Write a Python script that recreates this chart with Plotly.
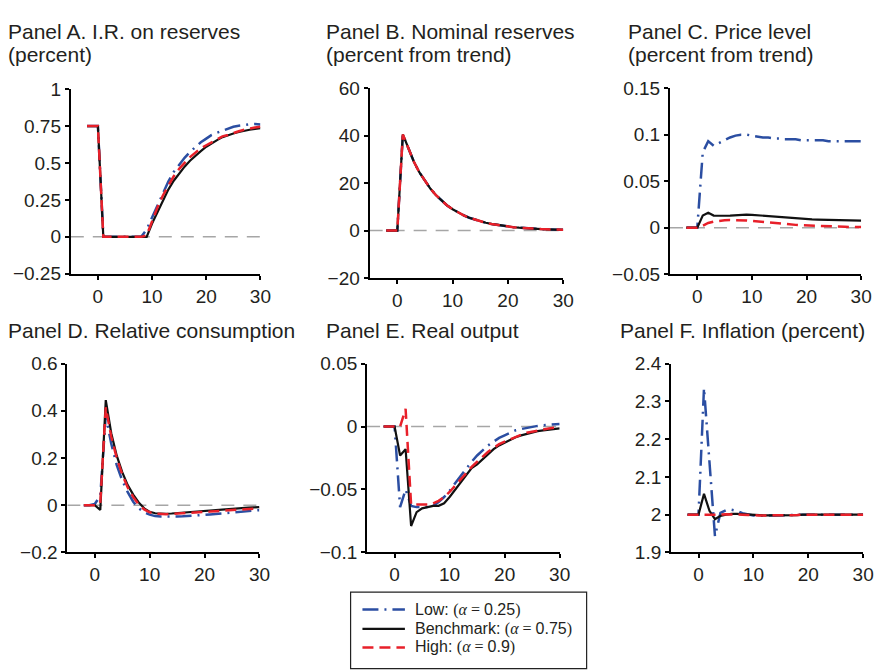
import plotly.graph_objects as go

W, H = 886, 670

t = list(range(-2, 31))

# Panel A: interest rate on reserves (percent)
a_low = [0.75, 0.75, 0.75, 0, 0, 0, 0, 0, 0, 0, 0, 0.05, 0.13, 0.22, 0.30, 0.375, 0.44, 0.49, 0.535, 0.575,
         0.61, 0.64, 0.665, 0.69, 0.705, 0.72, 0.735, 0.745, 0.752, 0.758, 0.762, 0.764, 0.76]
a_bench = [0.75, 0.75, 0.75, 0, 0, 0, 0, 0, 0, 0, 0, 0, 0.09, 0.17, 0.25, 0.32, 0.38, 0.43, 0.475, 0.515,
           0.55, 0.58, 0.61, 0.635, 0.655, 0.675, 0.69, 0.70, 0.71, 0.72, 0.725, 0.73, 0.735]
a_high = [0.75, 0.75, 0.75, 0, 0, 0, 0, 0, 0, 0, 0, 0.01, 0.11, 0.20, 0.28, 0.35, 0.41, 0.46, 0.50, 0.54,
          0.57, 0.60, 0.62, 0.64, 0.66, 0.68, 0.69, 0.705, 0.715, 0.725, 0.735, 0.74, 0.745]

# Panel B: nominal reserves (percent from trend)
b_low = [0, 0, 0, 40.5, 34.3, 29.0, 24.5, 20.8, 17.6, 14.9, 12.6, 10.6, 9.0, 7.6, 6.4, 5.4, 4.6, 3.9, 3.3,
         2.8, 2.4, 2.0, 1.7, 1.4, 1.2, 1.0, 0.87, 0.74, 0.62, 0.53, 0.45, 0.38, 0.32]
b_bench = list(b_low)
b_high = list(b_low)

# Panel C: price level (percent from trend)
c_low = [0, 0, 0, 0.081, 0.093, 0.088, 0.091, 0.094, 0.097, 0.099, 0.100, 0.100, 0.099, 0.098, 0.097,
         0.097, 0.096, 0.096, 0.095, 0.095, 0.095, 0.094, 0.094, 0.094, 0.094, 0.094, 0.093, 0.093,
         0.093, 0.093, 0.093, 0.093, 0.093]
c_bench = [0, 0, 0, 0.013, 0.016, 0.013, 0.0125, 0.0128, 0.013, 0.0135, 0.014, 0.014, 0.0138, 0.0133,
           0.0128, 0.0122, 0.0117, 0.0112, 0.0107, 0.0103, 0.0099, 0.0095, 0.0092, 0.0089, 0.0087,
           0.0085, 0.0083, 0.0081, 0.008, 0.0079, 0.0078, 0.0077, 0.0076]
c_high = [0, 0, 0, 0.002, 0.005, 0.0065, 0.0075, 0.008, 0.0082, 0.0082, 0.008, 0.0077, 0.0072, 0.0066,
          0.006, 0.0054, 0.0048, 0.0043, 0.0038, 0.0034, 0.003, 0.0026, 0.0023, 0.002, 0.0018, 0.0016,
          0.0014, 0.0012, 0.001, 0.0009, 0.0008, 0.0007, 0.0006]

# Panel D: relative consumption
d_low = [0, 0, 0.005, 0.04, 0.38, 0.26, 0.17, 0.105, 0.055, 0.015, -0.013, -0.03, -0.04, -0.046, -0.048,
         -0.049, -0.049, -0.048, -0.047, -0.046, -0.044, -0.043, -0.041, -0.039, -0.037, -0.035, -0.033,
         -0.031, -0.029, -0.027, -0.025, -0.023, -0.021]
d_bench = [0, 0, 0, -0.02, 0.445, 0.305, 0.21, 0.14, 0.085, 0.045, 0.012, -0.013, -0.028, -0.034, -0.036,
           -0.036, -0.035, -0.033, -0.031, -0.029, -0.027, -0.025, -0.023, -0.021, -0.019, -0.017, -0.015,
           -0.014, -0.012, -0.011, -0.010, -0.009, -0.008]
d_high = [0, 0, 0, 0.01, 0.415, 0.29, 0.20, 0.13, 0.075, 0.035, 0.003, -0.018, -0.03, -0.036, -0.038,
          -0.038, -0.037, -0.036, -0.035, -0.033, -0.032, -0.030, -0.028, -0.027, -0.025, -0.024, -0.022,
          -0.020, -0.019, -0.017, -0.016, -0.015, -0.013]

# Panel E: real output
e_low = [0, 0, 0, -0.064, -0.05, -0.063, -0.064, -0.064, -0.064, -0.063, -0.060, -0.056, -0.051, -0.045,
         -0.039, -0.033, -0.028, -0.023, -0.019, -0.015, -0.012, -0.009, -0.007, -0.005, -0.003, -0.002,
         -0.001, 0, 0.0005, 0.001, 0.0015, 0.002, 0.002]
e_bench = [0, 0, 0, -0.023, -0.018, -0.079, -0.068, -0.065, -0.064, -0.063, -0.063, -0.061, -0.056, -0.050,
           -0.044, -0.038, -0.033, -0.030, -0.026, -0.022, -0.018, -0.015, -0.0128, -0.0105, -0.0085,
           -0.007, -0.0058, -0.0046, -0.0037, -0.003, -0.0025, -0.002, -0.0015]
e_high = [0, 0, 0, 0, 0.014, -0.062, -0.062, -0.062, -0.062, -0.061, -0.059, -0.056, -0.052, -0.047,
          -0.042, -0.037, -0.032, -0.028, -0.024, -0.020, -0.017, -0.014, -0.012, -0.010, -0.008, -0.0065,
          -0.005, -0.004, -0.003, -0.002, -0.0015, -0.001, -0.0005]

# Panel F: inflation (percent)
f_low = [2, 2, 2, 2.335, 2.14, 1.943, 2.005, 2.012, 2.013, 2.010, 2.004, 2.0, 1.998, 1.997, 1.997, 1.998,
         1.998, 1.999, 1.999, 1.999, 2.0, 2.0, 2.0, 2.0, 2.0, 2.0, 2.0, 2.0, 2.0, 2.0, 2.0, 2.0, 2.0]
f_bench = [2, 2, 2, 2.055, 2.01, 1.988, 1.997, 2.0, 2.002, 2.002, 2.001, 2.0, 1.999, 1.998, 1.998, 1.998,
           1.998, 1.999, 1.999, 1.999, 1.999, 2.0, 2.0, 2.0, 2.0, 2.0, 2.0, 2.0, 2.0, 2.0, 2.0, 2.0, 2.0]
f_high = [2, 2, 2, 2.0, 2.0, 1.999, 2.0, 2.001, 2.001, 2.0, 2.0, 1.999, 1.998, 1.998, 1.998, 1.998, 1.998,
          1.998, 1.999, 1.999, 1.999, 2.0, 2.0, 2.0, 2.0, 2.0, 2.0, 2.0, 2.0, 2.0, 2.0, 2.0, 2.0]

x_ticks = [0, 10, 20, 30]

titles = [
    ("Panel A. I.R. on reserves", "(percent)"),
    ("Panel B. Nominal reserves", "(percent from trend)"),
    ("Panel C. Price level", "(percent from trend)"),
    ("Panel D. Relative consumption", ""),
    ("Panel E. Real output", ""),
    ("Panel F. Inflation (percent)", ""),
]
y_ticks = [
    [-0.25, 0, 0.25, 0.5, 0.75, 1],
    [-20, 0, 20, 40, 60],
    [-0.05, 0, 0.05, 0.1, 0.15],
    [-0.2, 0, 0.2, 0.4, 0.6],
    [-0.1, -0.05, 0, 0.05],
    [1.9, 2, 2.1, 2.2, 2.3, 2.4],
]
y_ticktext = [
    ["\u22120.25", "0", "0.25", "0.5", "0.75", "1"],
    ["\u221220", "0", "20", "40", "60"],
    ["\u22120.05", "0", "0.05", "0.1", "0.15"],
    ["\u22120.2", "0", "0.2", "0.4", "0.6"],
    ["\u22120.1", "\u22120.05", "0", "0.05"],
    ["1.9", "2", "2.1", "2.2", "2.3", "2.4"],
]
series = [
    (a_low, a_bench, a_high),
    (b_low, b_bench, b_high),
    (c_low, c_bench, c_high),
    (d_low, d_bench, d_high),
    (e_low, e_bench, e_high),
    (f_low, f_bench, f_high),
]
baselines = [0, 0, 0, 0, 0, None]

legend_names = ["Low: ", "Benchmark: ", "High: "]
legend_alpha = ["0.25", "0.75", "0.9"]

# pixel boxes of the plot areas (left, right, top, bottom)
boxes = [
    (71.7, 263.7, 81.7, 272.3),
    (374.3, 570.3, 80.7, 276.7),
    (678.4, 872.0, 80.7, 272.7),
    (68.2, 262.7, 365.0, 560.0),
    (371.7, 566.7, 365.0, 560.0),
    (679.5, 874.0, 365.0, 560.0),
]
title_x = [6, 328, 634, 6, 328, 626]
title_y = [22, 331]

BLUE = "#2b4ea2"
RED = "#e8202a"
BLACK = "#111111"
TXT = "#231f20"
FONT = "Liberation Sans, Arial, Helvetica, sans-serif"
SERIF = "Liberation Serif, Times New Roman, serif"

styles = [
    (BLUE, "16px,6px,2px,6px", 2.5),
    (BLACK, "solid", 2.2),
    (RED, "11px,6px", 2.5),
]

fig = go.Figure()
shapes = []
annotations = []

for i in range(6):
    n = i + 1
    xa = "x" if n == 1 else f"x{n}"
    ya = "y" if n == 1 else f"y{n}"
    l, r, tp, bt = boxes[i]
    for (col, dash, lw), ys in zip(styles, series[i]):
        fig.add_trace(go.Scatter(x=t, y=ys, mode="lines", xaxis=xa, yaxis=ya,
                                 line=dict(color=col, dash=dash, width=lw),
                                 showlegend=False, hoverinfo="skip"))
    yt = y_ticks[i]
    fig.layout[f"xaxis{'' if n == 1 else n}"] = dict(
        domain=[l / W, r / W], range=[-5, 30], anchor=ya,
        tickvals=x_ticks, ticktext=[str(v) for v in x_ticks],
        showline=True, linecolor="black", linewidth=2, ticks="outside", ticklen=4,
        tickwidth=1.5, tickcolor="black", showgrid=False, zeroline=False,
        tickfont=dict(family=FONT, size=19, color=TXT), fixedrange=True)
    fig.layout[f"yaxis{'' if n == 1 else n}"] = dict(
        domain=[1 - bt / H, 1 - tp / H], range=[yt[0], yt[-1]], anchor=xa,
        tickvals=yt, ticktext=y_ticktext[i],
        showline=True, linecolor="black", linewidth=2, ticks="outside", ticklen=4,
        tickwidth=1.5, tickcolor="black", showgrid=False, zeroline=False,
        tickfont=dict(family=FONT, size=19, color=TXT), fixedrange=True)
    if baselines[i] is not None:
        shapes.append(dict(type="line", xref=xa, yref=ya, x0=-5, x1=30,
                           y0=baselines[i], y1=baselines[i], layer="below",
                           line=dict(color="#a6a6a6", width=1.5, dash="13px,9px")))
    row = 0 if i < 3 else 1
    l1, l2 = titles[i]
    annotations.append(dict(text=l1, xref="paper", yref="paper", x=title_x[i] / W,
                            y=1 - title_y[row] / H, xanchor="left", yanchor="middle",
                            showarrow=False, font=dict(family=FONT, size=21, color=TXT)))
    if l2:
        annotations.append(dict(text=l2, xref="paper", yref="paper", x=title_x[i] / W,
                                y=1 - (title_y[row] + 24) / H, xanchor="left",
                                yanchor="middle", showarrow=False,
                                font=dict(family=FONT, size=21, color=TXT)))

# legend box (manual)
lx0, lx1, ly0 = 355, 594, 601
shapes.append(dict(type="rect", xref="paper", yref="paper", x0=lx0 / W, x1=lx1 / W,
                   y0=1 - 680 / H, y1=1 - ly0 / H, line=dict(color="#222", width=1.2),
                   fillcolor="white", layer="above"))
leg_y = [619, 639, 658]
for (col, dash, lw), nm, al, yy in zip(styles, legend_names, legend_alpha, leg_y):
    shapes.append(dict(type="line", xref="paper", yref="paper", x0=367 / W, x1=410 / W,
                       y0=1 - yy / H, y1=1 - yy / H, layer="above",
                       line=dict(color=col, width=lw, dash=dash)))
    txt = (nm + f"<span style='font-family:{SERIF}'>(<i>\u03b1</i> = </span>" + al
           + f"<span style='font-family:{SERIF}'>)</span>")
    annotations.append(dict(text=txt, xref="paper", yref="paper", x=418 / W, y=1 - yy / H,
                            xanchor="left", yanchor="middle", showarrow=False,
                            font=dict(family=FONT, size=16, color=TXT)))

fig.update_layout(width=W, height=H, margin=dict(l=0, r=0, t=0, b=0),
                  paper_bgcolor="white", plot_bgcolor="white",
                  shapes=shapes, annotations=annotations, showlegend=False)

fig.write_html("out.html", config={"displayModeBar": False})
